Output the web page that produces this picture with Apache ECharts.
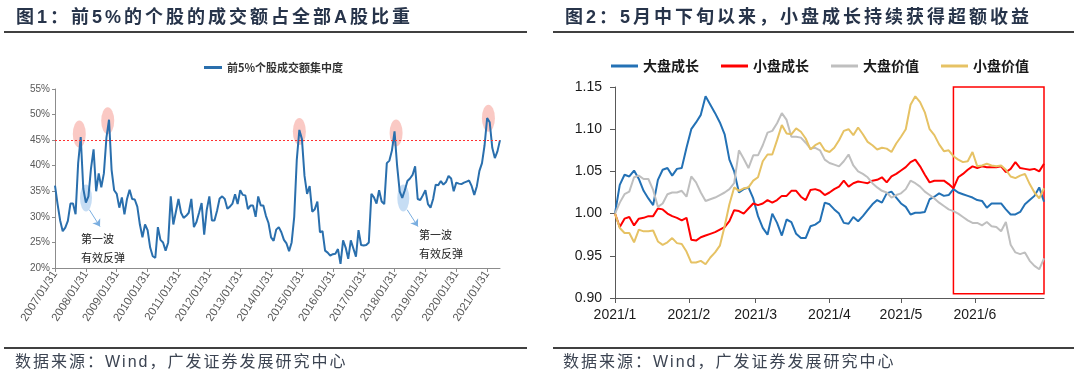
<!DOCTYPE html>
<html>
<head>
<meta charset="utf-8">
<script src="https://cdn.jsdelivr.net/npm/echarts@6.0.0/dist/echarts.min.js"></script>
<style>
  body { margin: 0; padding: 0; width: 1080px; height: 376px; background: #fff; position: relative; overflow: hidden;
         font-family: 'Liberation Sans', Arial, 'Noto Sans CJK SC', sans-serif; }
  #myChart { position: absolute; left: 0; top: 0; width: 1080px; height: 376px; }
  .title { position: absolute; top: 6px; height: 22px; line-height: 22px; font-size: 18px; font-weight: bold;
           color: #27344a; letter-spacing: 3px; white-space: nowrap; }
  .rule { position: absolute; height: 2px; background: #404040; }
  .src { position: absolute; top: 353px; line-height: 18px; font-size: 16px; color: #3c4452; letter-spacing: 2px; white-space: nowrap; }
</style>
</head>
<body>
<div id="myChart"></div>
<div class="title" style="left:16px;">图1：前5%的个股的成交额占全部A股比重</div>
<div class="title" style="left:565px;">图2：5月中下旬以来，小盘成长持续获得超额收益</div>
<div class="rule" style="left:4px; width:523px; top:31px;"></div>
<div class="rule" style="left:553px; width:521px; top:31px;"></div>
<div class="rule" style="left:4px; width:523px; top:347px;"></div>
<div class="rule" style="left:553px; width:521px; top:347px;"></div>
<div class="src" style="left:15px;">数据来源：Wind，广发证券发展研究中心</div>
<div class="src" style="left:563px;">数据来源：Wind，广发证券发展研究中心</div>
<script type="text/javascript">
// ---- 图1 数据 ----
var yearTicks = ['2007/01/31','2008/01/31','2009/01/31','2010/01/31','2011/01/31','2012/01/31','2013/01/31',
  '2014/01/31','2015/01/31','2016/01/31','2017/01/31','2018/01/31','2019/01/31','2020/01/31','2021/01/31'];
var shareTop5 = [
  36.1,32.5,29.3,27.2,27.9,29.2,32.6,32.6,30.5,40.5,45.6,35.5,32.8,34,39.5,43.2,35,38.5,35.8,38.5,
  45.5,49,39.2,35.2,34.5,31.8,33.8,30.5,33.5,35.3,33.5,33.4,32,28.5,26,28.5,27.4,24,22.3,22,
  28,25.5,25,23.4,25,34,28.5,31,33.5,30.8,29.8,30.2,30.8,33.5,28,29,30.8,32.7,26.5,31.4,
  34,29.3,29.3,31.2,33.6,34,33.5,31.6,32,32.6,34.4,32.5,35.2,34.3,34.2,31.5,32.2,32.2,30,34,
  32.2,32.2,30.2,28.8,26,25.3,27.5,28,27,25.5,24.8,23.3,25,30,41.2,47,45.2,38,34.5,36,
  31,31.5,33,27,27.2,23.4,23,22.4,22.7,22.8,23.7,20.8,25.4,24,21.8,25.4,23.8,22.2,27.4,24.5,
  24.4,24.5,25,34.5,33.8,32.6,35.2,33,32.5,40.5,41,43,46.7,40,35,33.7,35.2,37,37.5,38.2,
  39.9,33.5,33.3,34.2,35.2,32.5,31.8,33.5,36.3,36.2,37,36.3,36.8,38,37.5,35,36.7,36.5,36.4,36.7,
  36.9,37.1,36,34.3,36,39,40.5,44,49.3,48.5,43.5,41.5,42.8,45
];
var peakMarks = [[9.45, 46.2], [20.5, 48.8], [95, 46.7], [132.6, 46.4], [168.5, 49.3]];
var reboundMarks = [[12.05, 33.7], [135.4, 33.7]];
var arrowLines = [[[13.34, 31.4], [17.5, 28.1]], [[136.9, 31.4], [141.1, 28.1]]];
var noteSpots = [[10.1, 23.8], [141.5, 24.6]];

// ---- 图2 数据 ----
var days = ['01-01','01-03','01-05','01-07','01-09','01-11','01-13','01-15','01-17','01-19','01-21','01-23','01-25','01-27','01-29','01-31',
  '02-02','02-04','02-06','02-08','02-10','02-12','02-14','02-16','02-18','02-20','02-22','02-24','02-26','02-28',
  '03-02','03-04','03-06','03-08','03-10','03-12','03-14','03-16','03-18','03-20','03-22','03-24','03-26','03-28','03-30',
  '04-01','04-03','04-05','04-07','04-09','04-11','04-13','04-15','04-17','04-19','04-21','04-23','04-25','04-27','04-29',
  '05-01','05-03','05-05','05-07','05-09','05-11','05-13','05-15','05-17','05-19','05-21','05-23','05-25','05-27','05-29','05-31',
  '06-02','06-04','06-06','06-08','06-10','06-12','06-14','06-16','06-18','06-20','06-22','06-24','06-26','06-28','06-30'];
var bigGrowth = [
  1.0,1.034,1.046,1.044,1.051,1.041,1.027,1.018,1.01,1.04,1.052,1.054,1.045,1.053,1.054,1.078,1.1,1.108,1.117,1.139,
  1.129,1.119,1.108,1.094,1.064,1.05,1.025,1.029,1.031,1.018,0.997,
  0.983,0.975,1.0,0.989,0.974,0.993,0.99,0.976,0.971,0.971,0.985,0.987,0.991,1.013,1.011,1.005,1.0,0.989,0.988,0.996,
  0.991,0.997,1.004,1.011,1.016,1.013,1.024,1.026,1.019,1.012,1.008,0.999,1.001,
  1.001,1.002,1.017,1.02,1.024,1.021,1.022,1.029,1.025,1.023,1.021,1.019,1.016,1.015,1.007,1.012,1.012,1.012,1.005,0.999,
  0.999,1.002,1.011,1.016,1.021,1.031,1.014];
var smallGrowth = [
  1.0,0.984,0.994,0.996,0.986,0.994,0.995,0.997,0.997,1.006,1.005,1.0,0.997,0.995,0.992,0.995,0.969,0.968,0.972,0.974,
  0.976,0.978,0.981,0.984,0.991,1.004,1.003,1.0,1.006,1.012,1.01,
  1.012,1.016,1.013,1.016,1.021,1.021,1.027,1.027,1.02,1.016,1.028,1.029,1.027,1.022,1.025,1.029,1.032,1.039,1.032,1.036,
  1.038,1.037,1.036,1.039,1.04,1.043,1.037,1.044,1.047,1.051,1.055,1.061,1.064,
  1.056,1.046,1.037,1.039,1.039,1.039,1.035,1.03,1.043,1.047,1.052,1.056,1.054,1.056,1.055,1.055,1.055,1.056,1.049,1.053,
  1.061,1.054,1.053,1.052,1.053,1.05,1.059];
var bigValue = [
  1.0,1.013,1.023,1.026,1.043,1.045,1.041,1.041,1.028,1.008,1.012,1.023,1.025,1.025,1.027,1.02,1.044,1.037,1.025,1.015,
  1.017,1.019,1.022,1.025,1.029,1.036,1.075,1.065,1.054,1.069,1.069,
  1.081,1.096,1.098,1.107,1.119,1.111,1.091,1.091,1.09,1.084,1.077,1.078,1.075,1.064,1.06,1.058,1.056,1.062,1.07,1.057,
  1.05,1.047,1.043,1.036,1.031,1.027,1.025,1.019,1.022,1.024,1.029,1.039,1.036,
  1.032,1.026,1.022,1.018,1.013,1.009,1.005,1.003,1.0,0.996,0.992,0.989,0.989,0.986,0.99,0.985,0.984,0.979,0.99,0.963,
  0.954,0.952,0.954,0.944,0.938,0.934,0.947];
var smallValue = [
  1.0,0.983,0.977,0.977,0.966,0.981,0.979,0.979,0.98,0.967,0.963,0.966,0.971,0.965,0.964,0.955,0.942,0.942,0.944,0.94,
  0.948,0.954,0.962,0.985,1.011,1.031,1.027,1.03,1.031,1.039,1.043,
  1.062,1.07,1.07,1.087,1.105,1.095,1.094,1.101,1.097,1.089,1.076,1.081,1.084,1.075,1.073,1.078,1.087,1.098,1.1,1.093,
  1.102,1.094,1.085,1.081,1.076,1.078,1.077,1.073,1.083,1.091,1.1,1.129,1.139,
  1.132,1.12,1.1,1.093,1.082,1.074,1.075,1.068,1.064,1.061,1.062,1.073,1.056,1.057,1.059,1.057,1.056,1.057,1.052,1.044,
  1.042,1.045,1.047,1.035,1.025,1.018,1.03];
var boxRange = [['2021-05-23', 1.15], ['2021-07-02', 0.905]];

// 月度类目：每年 1 月显示标签
var months = [];
for (var y = 0; y < yearTicks.length; y++) {
  for (var m = 0; m < 12; m++) {
    months.push(m === 0 ? yearTicks[y] : yearTicks[y].slice(0, 5) + (m < 9 ? '0' : '') + (m + 1));
  }
}
months = months.slice(0, shareTop5.length);

function pairs(vals) {
  var out = [];
  for (var i = 0; i < vals.length; i++) out.push(['2021-' + days[i], vals[i]]);
  return out;
}

var latin = "'Liberation Sans', Arial, 'Noto Sans CJK SC', sans-serif";
var narrow = "'Liberation Sans Narrow', 'Arial Narrow', 'Liberation Sans', sans-serif";
var cjk = "'Noto Sans CJK SC', sans-serif";

var arrowData = arrowLines.map(function (a) {
  return [{ coord: a[0], symbol: 'none' }, { coord: a[1], symbol: 'arrow', symbolSize: 7 }];
});
var noteData = noteSpots.map(function (p) { return { coord: p }; });

var option = {
  animation: false,
  backgroundColor: 'transparent',
  grid: [
    { left: 55, top: 89, width: 445, height: 179 },
    { left: 615, top: 87, width: 429, height: 211 }
  ],
  legend: [
    { data: ['前5%个股成交额集中度'], left: 199, top: 57, icon: 'rect', itemWidth: 18, itemHeight: 3, itemGap: 4,
      textStyle: { fontSize: 11, fontWeight: 'bold', color: '#333', fontFamily: cjk } },
    { data: ['大盘成长', '小盘成长', '大盘价值', '小盘价值'], left: 606, top: 54, icon: 'rect', itemWidth: 27, itemHeight: 3,
      itemGap: 22, textStyle: { fontSize: 14, fontWeight: 'bold', color: '#1a1a1a', fontFamily: cjk } }
  ],
  xAxis: [
    { type: 'category', gridIndex: 0, data: months, boundaryGap: false,
      axisLine: { lineStyle: { color: '#8c8c8c', width: 1 } },
      axisTick: { show: true, interval: 11, length: 4, lineStyle: { color: '#8c8c8c' } },
      axisLabel: { interval: 11, rotate: 57, margin: 4, fontSize: 11.5, color: '#595959', fontFamily: narrow },
      splitLine: { show: false } },
    { type: 'value', gridIndex: 0, min: 0, max: shareTop5.length - 1, show: false },
    { type: 'time', gridIndex: 1, min: '2021-01-01', max: '2021-06-30', splitNumber: 6,
      minInterval: 28 * 86400000, maxInterval: 31 * 86400000,
      axisLine: { lineStyle: { color: '#595959', width: 1 } },
      axisTick: { show: true, length: 5, lineStyle: { color: '#595959' } },
      axisLabel: { formatter: '{yyyy}/{M}', fontSize: 14, color: '#1a1a1a', margin: 10, fontFamily: latin,
                   showMinLabel: true, showMaxLabel: false },
      splitLine: { show: false } }
  ],
  yAxis: [
    { type: 'value', gridIndex: 0, min: 20, max: 55, interval: 5,
      axisLine: { show: true, lineStyle: { color: '#8c8c8c' } },
      axisTick: { show: true, length: 3, lineStyle: { color: '#8c8c8c' } },
      axisLabel: { formatter: '{value}%', fontSize: 10, color: '#595959', margin: 5, fontFamily: narrow },
      splitLine: { show: false } },
    { type: 'value', gridIndex: 1, min: 0.9, max: 1.15, interval: 0.05,
      axisLine: { show: true, lineStyle: { color: '#595959' } },
      axisTick: { show: true, length: 5, lineStyle: { color: '#595959' } },
      axisLabel: { formatter: function (v) { return v.toFixed(2); }, fontSize: 14, color: '#1a1a1a', margin: 13, fontFamily: latin },
      splitLine: { show: false } }
  ],
  series: [
    { name: '前5%个股成交额集中度', type: 'line', xAxisIndex: 0, yAxisIndex: 0, data: shareTop5,
      showSymbol: false, color: '#2a6fad', lineStyle: { width: 2, color: '#2a6fad' },
      markLine: { silent: true, symbol: 'none', label: { show: false },
        data: [{ yAxis: 45, lineStyle: { color: '#ff3030', type: [2, 2], width: 1 } }] } },
    { name: 'peaks', type: 'scatter', xAxisIndex: 1, yAxisIndex: 0, data: peakMarks, silent: true,
      symbol: 'circle', symbolSize: [13, 27], itemStyle: { color: 'rgba(242,120,108,0.5)' } },
    { name: 'rebound', type: 'scatter', xAxisIndex: 1, yAxisIndex: 0, data: reboundMarks, silent: true,
      symbol: 'circle', symbolSize: [12, 27], itemStyle: { color: 'rgba(96,160,224,0.45)' },
      markLine: { silent: true, label: { show: false }, lineStyle: { color: '#7aaee0', width: 1, type: 'solid' },
        data: arrowData },
      markPoint: { silent: true, symbol: 'circle', symbolSize: 1, itemStyle: { color: 'rgba(0,0,0,0)' },
        label: { show: true, position: 'inside', align: 'left', verticalAlign: 'middle', formatter: '第一波\n有效反弹',
          fontSize: 11, lineHeight: 19, color: '#222', fontFamily: cjk },
        data: noteData } },
    { name: '大盘成长', type: 'line', xAxisIndex: 2, yAxisIndex: 1, data: pairs(bigGrowth), showSymbol: false,
      color: '#2371b5', lineStyle: { width: 2, color: '#2371b5' } },
    { name: '小盘成长', type: 'line', xAxisIndex: 2, yAxisIndex: 1, data: pairs(smallGrowth), showSymbol: false,
      color: '#ff0000', lineStyle: { width: 2, color: '#ff0000' } },
    { name: '大盘价值', type: 'line', xAxisIndex: 2, yAxisIndex: 1, data: pairs(bigValue), showSymbol: false,
      color: '#bfbfbf', lineStyle: { width: 2, color: '#bfbfbf' } },
    { name: '小盘价值', type: 'line', xAxisIndex: 2, yAxisIndex: 1, data: pairs(smallValue), showSymbol: false,
      clip: false, color: '#e6c264', lineStyle: { width: 2, color: '#e6c264' },
      markArea: { silent: true, itemStyle: { color: 'rgba(0,0,0,0)', borderColor: '#ff0000', borderWidth: 1.5 },
        data: [[{ coord: boxRange[0] }, { coord: boxRange[1] }]] } }
  ]
};
echarts.init(document.getElementById('myChart')).setOption(option);
</script>
</body>
</html>
